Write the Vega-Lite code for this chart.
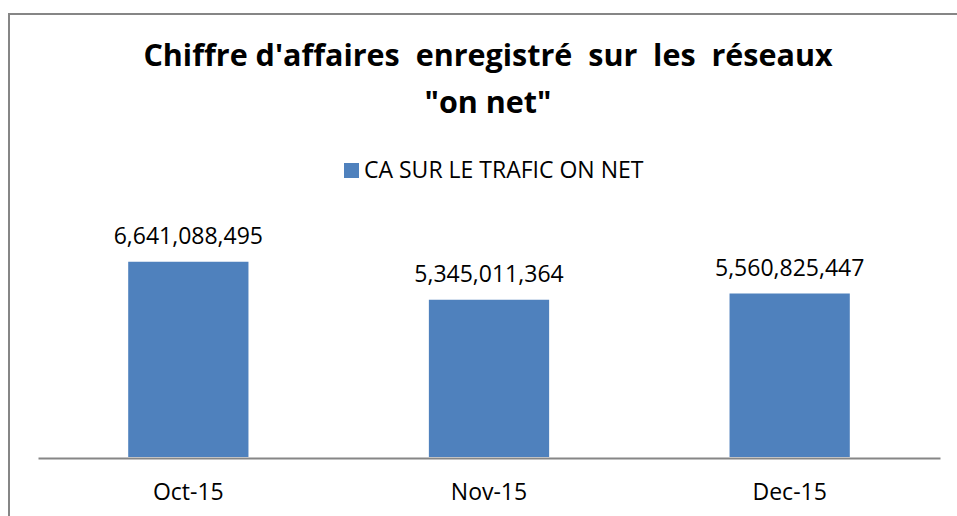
{
  "$schema": "https://vega.github.io/schema/vega-lite/v6.json",
  "autosize": {"type": "none"},
  "width": 948,
  "height": 502,
  "padding": {"left": 9, "top": 14, "right": 0, "bottom": 0},
  "background": "#ffffff",
  "config": {
    "font": "Open Sans",
    "view": {"stroke": "#868686", "strokeWidth": 2, "strokeDash": [948, 1450, 502]}
  },
  "title": {
    "text": ["Chiffre d'affaires\u00a0 enregistré\u00a0 sur\u00a0 les\u00a0 réseaux", "\"on net\""],
    "orient": "top",
    "anchor": "middle",
    "frame": "group",
    "offset": -105,
    "dx": 5,
    "font": "Open Sans",
    "fontSize": 30.5,
    "fontWeight": "bold",
    "lineHeight": 47,
    "color": "#000000"
  },
  "data": {
    "values": [
      {"month": "Oct-15", "ca": 6641088495, "series": "CA SUR LE TRAFIC ON NET"},
      {"month": "Nov-15", "ca": 5345011364, "series": "CA SUR LE TRAFIC ON NET"},
      {"month": "Dec-15", "ca": 5560825447, "series": "CA SUR LE TRAFIC ON NET"}
    ]
  },
  "encoding": {
    "x": {
      "field": "month",
      "type": "nominal",
      "sort": null,
      "scale": {"range": [29, 931], "paddingInner": 0.6, "paddingOuter": 0.3},
      "axis": {
        "title": null,
        "orient": "bottom",
        "offset": -58,
        "labelAngle": 0,
        "ticks": false,
        "tickSize": 0,
        "labelPadding": 23,
        "labelFont": "Open Sans",
        "labelFontSize": 23,
        "labelColor": "#000000",
        "domainColor": "#868686",
        "domainWidth": 2
      }
    },
    "y": {
      "field": "ca",
      "type": "quantitative",
      "scale": {"domain": [0, 8000000000], "range": [443, 207.8], "nice": false, "zero": true},
      "axis": null
    }
  },
  "layer": [
    {
      "mark": {"type": "bar", "color": "#4F81BD"},
      "encoding": {
        "color": {
          "field": "series",
          "type": "nominal",
          "scale": {"range": ["#4F81BD"]},
          "legend": {
            "title": null,
            "orient": "none",
            "legendX": 331,
            "legendY": 145,
            "padding": 0,
            "symbolType": "square",
            "symbolSize": 225,
            "symbolStrokeWidth": 0,
            "labelFont": "Open Sans",
            "labelFontSize": 23,
            "labelColor": "#000000",
            "labelOffset": 1,
            "labelLimit": 500
          }
        }
      }
    },
    {
      "mark": {"type": "text", "baseline": "alphabetic", "dy": -18, "fontSize": 23, "font": "Open Sans", "color": "#000000"},
      "encoding": {
        "text": {"field": "ca", "type": "quantitative", "format": ",d"}
      }
    }
  ]
}
